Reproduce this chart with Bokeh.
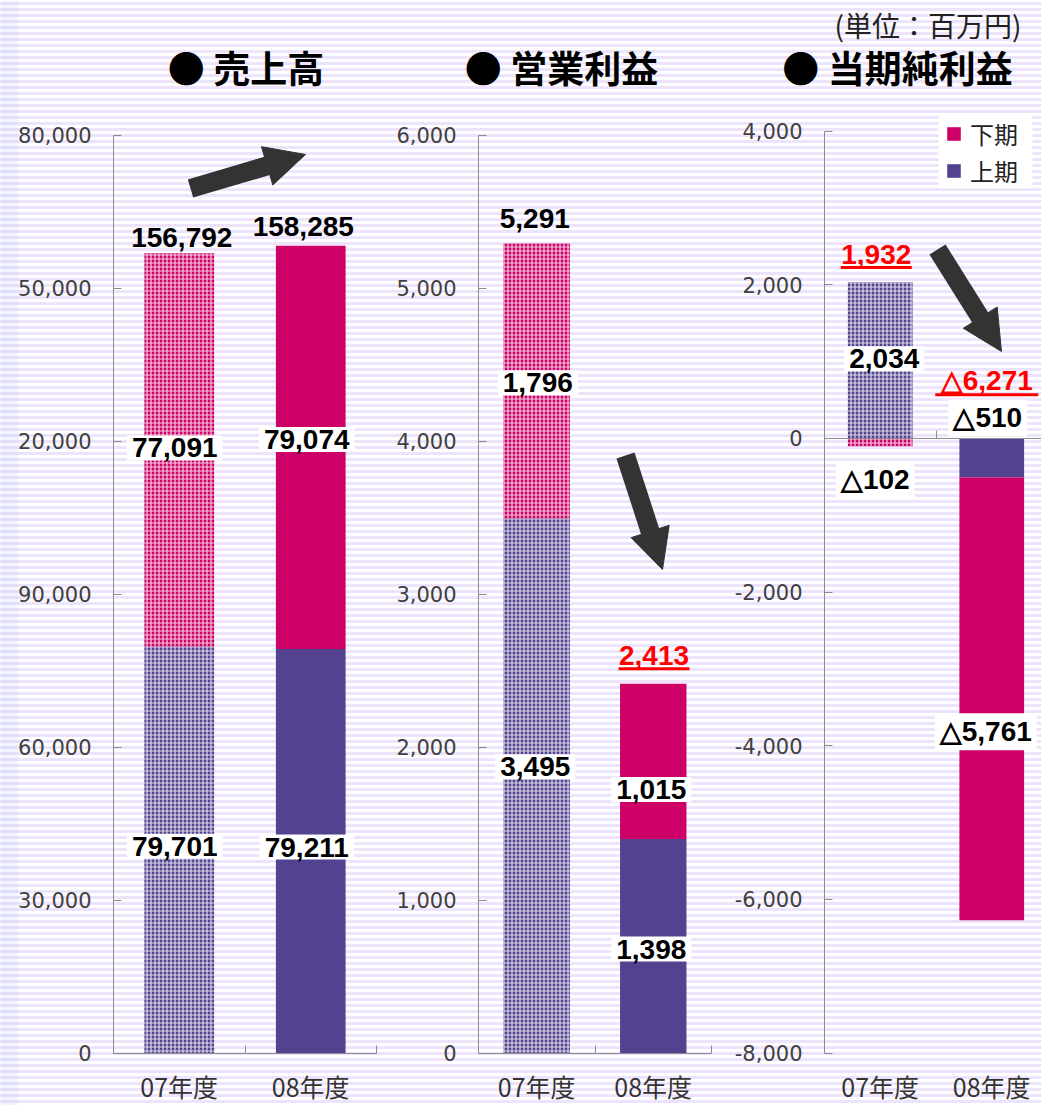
import numpy as np
from bokeh.plotting import figure
from bokeh.models import (ColumnDataSource, LinearAxis, FixedTicker, Label, Arrow,
                          NormalHead, Legend, LegendItem, BoxAnnotation, Range1d, Row)
from bokeh.embed import file_html
from bokeh.resources import INLINE

# ---------------- data ----------------
categories = ["07年度", "08年度"]
first_label = "上期"
second_label = "下期"

sales_first = [79701, 79211]
sales_second = [77091, 79074]
sales_total = [156792, 158285]

op_first = [3495, 1398]
op_second = [1796, 1015]
op_total = [5291, 2413]

net_first = [2034, -510]
net_second = [-102, -5761]
net_total = [1932, -6271]

sales_ticks = [0, 30000, 60000, 90000, 120000, 150000, 180000]
sales_tick_labels = ["0", "30,000", "60,000", "90,000", "20,000", "50,000", "80,000"]
op_ticks = [0, 1000, 2000, 3000, 4000, 5000, 6000]
op_tick_labels = ["0", "1,000", "2,000", "3,000", "4,000", "5,000", "6,000"]
net_ticks = [-8000, -6000, -4000, -2000, 0, 2000, 4000]
net_tick_labels = ["-8,000", "-6,000", "-4,000", "-2,000", "0", "2,000", "4,000"]

titles = ["● 売上高", "● 営業利益", "● 当期純利益"]
unit_text = "(単位：百万円)"

# ---------------- styles / layout ----------------
PINK = "#CC0066"
PURPLE = "#524290"
AXIS_C = "#8c8c8c"
H = 1105
NUM_FONT = "Liberation Sans"
NUM_SIZE = "28px"
JP_FONT = "Noto Sans CJK JP"
hatch_of_year = ["cross", " "]

panels = [
    dict(first=sales_first, second=sales_second, total=sales_total,
         ticks=sales_ticks, tick_labels=sales_tick_labels, title=titles[0],
         left=0, width=385, axis_px=113, unit_px=131.5,
         y_top=134.5, y_bot=1052.5, v_top=180000, v_bot=0, bar_w=0.53,
         title_xy=(245.5, 66),
         off_first=[(-4.5, 3.5), (-4, 4)], off_second=[(-4.5, 2), (-4, 8)],
         off_total=[(2.5, 16), (-7.5, 19)], red=[False, False],
         underline=[None, None],
         arrow=((190, 188), (305, 154))),
    dict(first=op_first, second=op_second, total=op_total,
         ticks=op_ticks, tick_labels=op_tick_labels, title=titles[1],
         left=385, width=335, axis_px=478, unit_px=116.5,
         y_top=134.5, y_bot=1052.5, v_top=6000, v_bot=0, bar_w=0.57,
         title_xy=(561, 66),
         off_first=[(-1.5, 19), (-2, -3)], off_second=[(1, -2), (-2, -28)],
         off_total=[(-2, 25), (0.75, 28)], red=[False, True],
         underline=[None, (15, 71)],
         arrow=((625, 455), (662, 569))),
    dict(first=net_first, second=net_second, total=net_total,
         ticks=net_ticks, tick_labels=net_tick_labels, title=titles[2],
         left=720, width=321, axis_px=824, unit_px=111.5,
         y_top=130.5, y_bot=1052.5, v_top=4000, v_bot=-8000, bar_w=0.58,
         title_xy=(897, 66),
         off_first=[(4, 1.5), (-4, 40)], off_second=[(-5, -37), (-6, -33)],
         off_total=[(-4, 28), (-5, 57.7)], red=[True, True],
         underline=[(14.6, 71), (43.7, 103)],
         arrow=((937, 249), (1001, 351))),
]


def fmt(v):
    return f"{v:,}" if v >= 0 else "△" + f"{-v:,}"


def stack(first, second):
    n = len(first)
    pos = np.zeros(n)
    neg = np.zeros(n)
    out = []
    for s in (first, second):
        s = np.asarray(s, dtype=float)
        bottom = np.where(s >= 0, pos, neg)
        top = bottom + s
        pos = np.where(s >= 0, top, pos)
        neg = np.where(s < 0, top, neg)
        out.append((bottom, top))
    return out, pos


label_kw = {}
if "padding" in Label.properties():
    try:
        Label(text="x", padding=(5, 3))
        label_kw["padding"] = (5, 3)
    except Exception:
        label_kw["padding"] = 4

figs = []
x_idx = np.arange(len(categories))
for k, g in enumerate(panels):
    ppu = (g["y_bot"] - g["y_top"]) / (g["v_top"] - g["v_bot"])

    def X(px, g=g):
        return (px - g["axis_px"]) / g["unit_px"] - 0.5

    def Y(py, g=g, ppu=ppu):
        return g["v_top"] - (py - g["y_top"]) / ppu

    p = figure(width=g["width"], height=H, output_backend="svg", toolbar_location=None,
               x_range=Range1d(X(g["left"]), X(g["left"] + g["width"])),
               y_range=Range1d(Y(H), Y(0)),
               x_axis_location=None, y_axis_location=None, min_border=0,
               background_fill_alpha=0, border_fill_alpha=0, outline_line_color=None)
    p.grid.visible = False

    if k == 0:
        p.add_layout(BoxAnnotation(right=X(18), fill_color="#B8C8FF", fill_alpha=0.18,
                                   line_color=None, level="underlay"))

    stacks, pos_top = stack(g["first"], g["second"])
    renderers = []
    for (bottom, top), color in zip(stacks, [PURPLE, PINK]):
        src = ColumnDataSource(dict(x=x_idx, bottom=bottom, top=top, hatch=hatch_of_year))
        r = p.vbar(x="x", width=g["bar_w"], bottom="bottom", top="top", source=src,
                   fill_color=color, line_color=None, hatch_pattern="hatch",
                   hatch_color="white", hatch_scale=4, hatch_weight=1.2, hatch_alpha=0.8)
        renderers.append(r)

    # axes
    yax = LinearAxis(fixed_location=-0.5, bounds=(g["v_bot"], g["v_top"]),
                     ticker=FixedTicker(ticks=g["ticks"], minor_ticks=[]),
                     major_label_overrides=dict(zip(g["ticks"], g["tick_labels"])),
                     major_tick_in=8, major_tick_out=0, minor_tick_line_color=None,
                     axis_line_color=AXIS_C, major_tick_line_color=AXIS_C,
                     major_label_text_font="DejaVu Sans", major_label_text_font_size="21px",
                     major_label_text_color="#404040", major_label_standoff=22)
    p.add_layout(yax, "left")

    cat_over = dict(zip([int(i) for i in x_idx], categories))
    cat_style = dict(major_label_overrides=cat_over, major_label_text_font=JP_FONT,
                     major_label_text_font_size="25px", major_label_text_color="#333333",
                     major_label_standoff=9)
    if g["v_bot"] == 0:
        xax = LinearAxis(fixed_location=0, bounds=(-0.5, 1.5),
                         ticker=FixedTicker(ticks=list(x_idx), minor_ticks=[-0.5, 0.5, 1.5]),
                         major_tick_line_color=None, minor_tick_in=8, minor_tick_out=0,
                         minor_tick_line_color=AXIS_C, axis_line_color=AXIS_C, **cat_style)
        p.add_layout(xax, "below")
    else:
        zax = LinearAxis(fixed_location=0, bounds=(-0.5, X(g["left"] + g["width"])),
                         ticker=FixedTicker(ticks=list(x_idx), minor_ticks=[0.5]),
                         major_label_text_alpha=0,
                         major_tick_line_color=None, minor_tick_in=8, minor_tick_out=0,
                         minor_tick_line_color=AXIS_C, axis_line_color=AXIS_C)
        p.add_layout(zax, "below")
        cax = LinearAxis(fixed_location=g["v_bot"],
                         ticker=FixedTicker(ticks=list(x_idx), minor_ticks=[]),
                         axis_line_color=None, major_tick_line_color=None,
                         minor_tick_line_color=None, **cat_style)
        p.add_layout(cax, "below")

    # segment labels
    for (bottom, top), vals, offs in zip(stacks, [g["first"], g["second"]],
                                         [g["off_first"], g["off_second"]]):
        for i in range(len(categories)):
            dx, dy = offs[i]
            p.add_layout(Label(x=x_idx[i] + dx / g["unit_px"],
                               y=(bottom[i] + top[i]) / 2 + dy / ppu,
                               text=fmt(vals[i]), text_align="center", text_baseline="middle",
                               text_font=NUM_FONT, text_font_size=NUM_SIZE,
                               text_font_style="bold", text_color="black",
                               background_fill_color="white", background_fill_alpha=1,
                               **label_kw))

    # totals
    ux0, ux1, uy = [], [], []
    for i in range(len(categories)):
        dx, dy = g["off_total"][i]
        cx = x_idx[i] + dx / g["unit_px"]
        color = "#FF0000" if g["red"][i] else "black"
        p.add_layout(Label(x=cx, y=pos_top[i] + dy / ppu, text=fmt(g["total"][i]),
                           text_align="center", text_baseline="middle",
                           text_font=NUM_FONT, text_font_size=NUM_SIZE,
                           text_font_style="bold", text_color=color))
        if g["underline"][i] is not None:
            udy, uw = g["underline"][i]
            ux0.append(cx - uw / 2 / g["unit_px"])
            ux1.append(cx + uw / 2 / g["unit_px"])
            uy.append(pos_top[i] + udy / ppu)
    if ux0:
        p.segment(x0=ux0, x1=ux1, y0=uy, y1=uy, line_color="#FF0000", line_width=3)

    # title
    tx, ty = g["title_xy"]
    p.add_layout(Label(x=X(tx), y=Y(ty), text=g["title"], text_align="center",
                       text_baseline="middle", text_font=JP_FONT, text_font_size="37px",
                       text_font_style="bold", text_color="black"))

    # arrow
    (ax0, ay0), (ax1, ay1) = g["arrow"]
    p.add_layout(Arrow(x_start=X(ax0), y_start=Y(ay0), x_end=X(ax1), y_end=Y(ay1),
                       line_width=19, line_color="#333333",
                       end=NormalHead(size=40, fill_color="#333333", line_color="#333333",
                                      line_width=1)))

    if k == 2:
        p.add_layout(Label(x=X(927.5), y=Y(24), text=unit_text, text_align="center",
                           text_baseline="middle", text_font=JP_FONT, text_font_size="28px",
                           text_color="#222222"))
        p.add_layout(BoxAnnotation(left=X(938), right=X(1032), top=Y(113), bottom=Y(188),
                                   fill_color="white", fill_alpha=1, line_color=None))
        legend = Legend(items=[LegendItem(label=second_label, renderers=[renderers[1]], index=1),
                               LegendItem(label=first_label, renderers=[renderers[0]], index=1)],
                        location=(945 - g["left"], H - 188), orientation="vertical",
                        background_fill_alpha=0,
                        border_line_color=None, label_text_font=JP_FONT,
                        label_text_font_size="24px", label_text_color="#222222",
                        glyph_width=17, glyph_height=17, label_standoff=8,
                        padding=4, spacing=2, margin=0, label_height=20)
        p.add_layout(legend)
    figs.append(p)

layout = Row(children=figs, spacing=0,
             styles={"background": "repeating-linear-gradient(to bottom, #ffffff 0px, #ffffff 2px, "
                                   "#EDE4FB 2px, #EDE4FB 5px, #ffffff 5px, #ffffff 6px)"})

open("out.html", "w").write(file_html(layout, INLINE, "業績"))
